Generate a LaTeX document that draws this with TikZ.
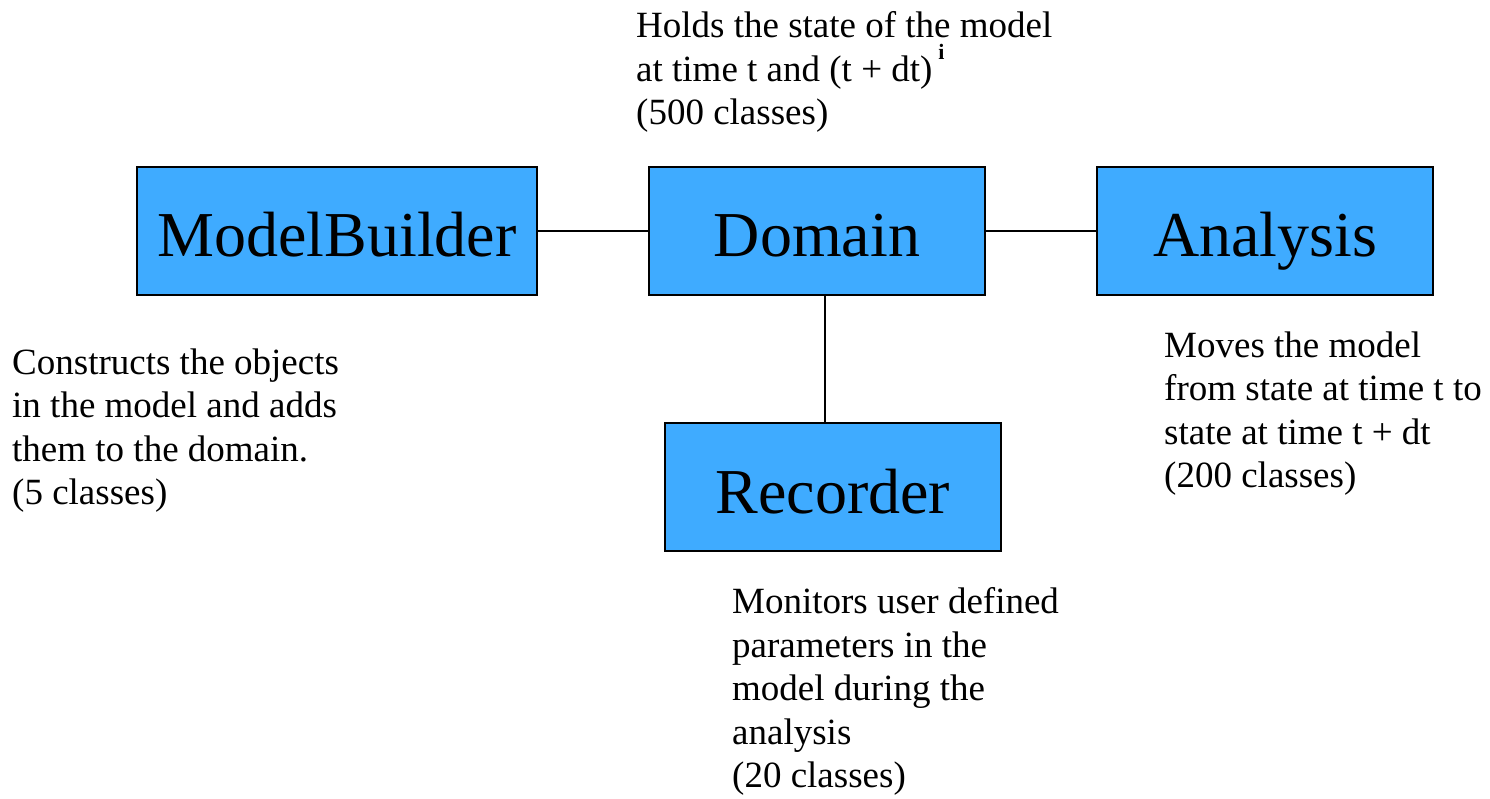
\documentclass[tikz,border=0pt]{standalone}
\usepackage{fontspec}
\setmainfont{Liberation Serif}
\definecolor{boxblue}{RGB}{63,171,255}
\begin{document}
\begin{tikzpicture}[x=1pt,y=-1pt,
  cls/.style={draw=black,line width=2pt,fill=boxblue,inner sep=0,
    minimum height=128pt,text height=52pt,text depth=0pt,
    font=\fontsize{64}{70}\selectfont},
  note/.style={anchor=north west,inner sep=0,align=left,
    font=\fontsize{37}{43.5}\selectfont},
  link/.style={line width=1.5pt}]
\useasboundingbox (0,0) rectangle (1490,799);
\node[cls,minimum width=400pt] (mb) at (337,231) {ModelBuilder};
\node[cls,minimum width=336pt] (dom) at (817,231) {Domain};
\node[cls,minimum width=336pt] (ana) at (1265,231) {Analysis};
\node[cls,minimum width=336pt] (rec) at (833,487) {Recorder};
\coordinate (dj) at ([xshift=8pt]dom.south);
\draw[link] (mb.east) -- (dom.west);
\draw[link] (dom.east) -- (ana.west);
\draw[link] (dj) -- (dj |- rec.north);
\node[note] (tdom) at (636,11.5) {Holds the state of the model\\at time t and (t + dt)\hspace{6pt}\raisebox{22pt}{\fontsize{22}{22}\selectfont\bfseries i}\\(500 classes)};
\node[note] (tmb) at (12,348.5) {Constructs the objects\\in the model and adds\\them to the domain.\\(5 classes)};
\node[note] (tana) at (1164,331.5) {Moves the model\\from state at time t to\\state at time t + dt\\(200 classes)};
\node[note] (trec) at (732,587.5) {Monitors user defined\\parameters in the\\model during the\\analysis\\(20 classes)};
\end{tikzpicture}
\end{document}
